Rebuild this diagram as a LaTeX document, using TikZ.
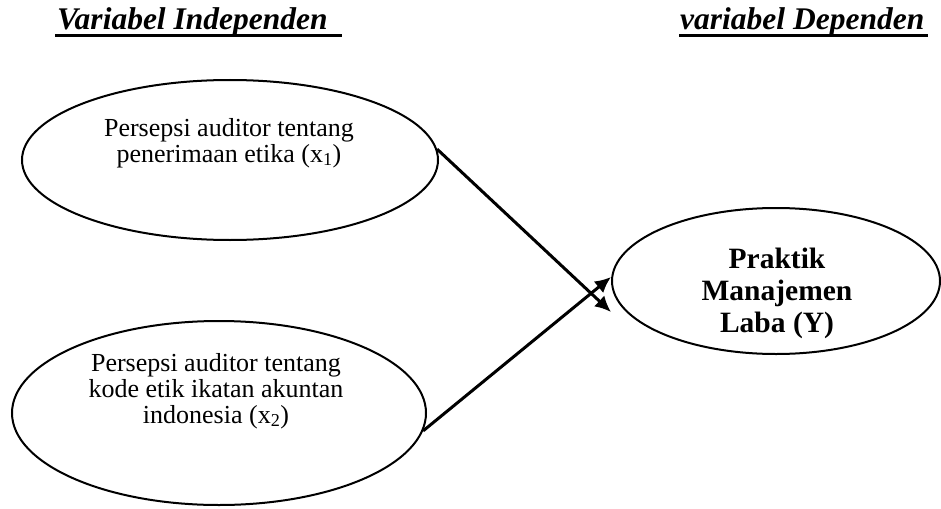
\documentclass[tikz,border=0pt]{standalone}
\usepackage{fontspec}
\setmainfont{Liberation Serif}
\usetikzlibrary{shapes.geometric,arrows.meta}
\begin{document}
\begin{tikzpicture}[x=1pt,y=-1pt,
  varell/.style={draw,ellipse,line width=2pt,inner sep=0pt},
  vartext/.style={align=center,font=\fontsize{26}{26}\selectfont},
  deptext/.style={align=center,font=\fontsize{29.5}{32}\selectfont\bfseries},
  header/.style={anchor=base west,inner sep=0pt,font=\fontsize{31.5}{34}\selectfont\bfseries\itshape},
  uline/.style={line width=3pt},
  link/.style={line width=3pt,-{Latex[length=16pt,width=15pt]}}]
\useasboundingbox (0,0) rectangle (941,508);
% headers
\node[header] (h1) at (57,30) {Variabel Independen};
\node[header] (h2) at (680,30) {variabel Dependen};
\draw[uline] (55,36) -- (342,36);
\draw[uline] (679,36) -- (928,36);
% ellipses
\node[varell,minimum width=416pt,minimum height=160pt] (e1) at (230,160) {};
\node[varell,minimum width=414pt,minimum height=184pt] (e2) at (219,413) {};
\node[varell,minimum width=328pt,minimum height=146pt] (e3) at (776,281) {};
% texts
\node[vartext] (t1) at (229,143) {Persepsi auditor tentang\\penerimaan etika (x\textsubscript{1})};
\node[vartext] (t2) at (216,391) {Persepsi auditor tentang\\kode etik ikatan akuntan\\indonesia (x\textsubscript{2})};
\node[deptext] (t3) at (777,293) {Praktik\\Manajemen\\Laba (Y)};
% arrows
\coordinate (a1) at (611,312);
\coordinate (a2) at (611,277);
\draw[link] (e1.3.6) -- (a1);
\draw[link] (e2.-5.3) -- (a2);
\end{tikzpicture}
\end{document}
